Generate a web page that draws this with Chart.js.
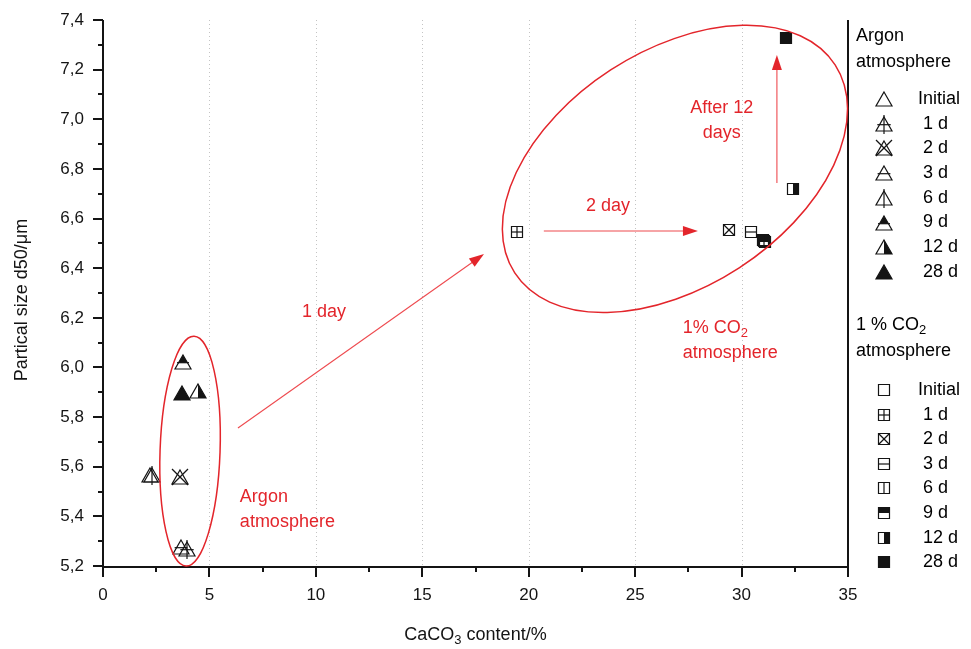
<!DOCTYPE html>
<html><head><meta charset="utf-8">
<script src="https://cdn.jsdelivr.net/npm/chart.js@4"></script>
<style>html,body{margin:0;padding:0;background:#fff;}#wrap{width:971px;height:649px;position:relative;}</style>
</head><body><div id="wrap"><canvas id="c" width="971" height="649"></canvas></div>
<script>
// ---------- data ----------
const seriesLabels = ['Initial', '1 d', '2 d', '3 d', '6 d', '9 d', '12 d', '28 d'];
const argonX = [2.2, 3.95, 3.6, 3.66, 2.28, 3.76, 4.46, 3.71];
const argonY = [5.567, 5.268, 5.559, 5.277, 5.565, 6.02, 5.907, 5.896];
const co2X = [31.0, 19.45, 29.42, 30.44, 31.05, 31.1, 32.41, 32.08];
const co2Y = [6.515, 6.547, 6.553, 6.546, 6.51, 6.506, 6.719, 7.327];
const xTickValues = [0, 5, 10, 15, 20, 25, 30, 35];
const yTickValues = [5.2, 5.4, 5.6, 5.8, 6.0, 6.2, 6.4, 6.6, 6.8, 7.0, 7.2, 7.4];
const xGridValues = [5, 10, 15, 20, 25, 30];
const symbolKinds = ['open', 'plus', 'x', 'hline', 'vline', 'top', 'right', 'full'];

// ---------- styling ----------
const FONT = "'Liberation Sans', Arial, Helvetica, sans-serif";
const RED = '#e3252b';
const INK = '#141414';

function symCanvas(shape, kind, s) {
  const W = 26, cv = document.createElement('canvas');
  cv.width = W; cv.height = W;
  const g = cv.getContext('2d');
  const c = W / 2;
  g.lineWidth = 1.2; g.strokeStyle = INK; g.fillStyle = INK;
  let l, r, top, bot, w, h, path;
  if (shape === 'tri') {
    w = s; h = s - 2;
    l = c - w / 2; r = c + w / 2; top = c - h / 2; bot = c + h / 2;
    path = () => { g.beginPath(); g.moveTo(c, top); g.lineTo(r, bot); g.lineTo(l, bot); g.closePath(); };
  } else {
    w = s; h = s;
    l = c - w / 2; r = c + w / 2; top = c - h / 2; bot = c + h / 2;
    path = () => { g.beginPath(); g.rect(l, top, w, h); };
  }
  const midY = shape === 'tri' ? top + h * 0.55 : c;
  if (kind === 'top' || kind === 'right' || kind === 'full') {
    g.save(); path(); g.clip();
    if (kind === 'top') g.fillRect(l - 2, top - 2, w + 4, midY - top + 2);
    if (kind === 'right') g.fillRect(c, top - 2, w, h + 4);
    if (kind === 'full') g.fillRect(l - 2, top - 2, w + 4, h + 4);
    g.restore();
  }
  const line = (x1, y1, x2, y2) => { g.beginPath(); g.moveTo(x1, y1); g.lineTo(x2, y2); g.stroke(); };
  if (shape === 'tri') {
    if (kind === 'plus') { line(c, top - 2, c, bot + 3); line(c - w * 0.42, midY, c + w * 0.42, midY); }
    if (kind === 'x') { line(l, top - 1, r, bot + 1); line(r, top - 1, l, bot + 1); }
    if (kind === 'hline') line(c - w * 0.4, midY, c + w * 0.4, midY);
    if (kind === 'vline') line(c, top - 2, c, bot + 3);
    if (kind === 'top') line(l + 2, midY, r - 2, midY);
  } else {
    if (kind === 'plus') { line(c, top, c, bot); line(l, c, r, c); }
    if (kind === 'x') { line(l, top, r, bot); line(r, top, l, bot); }
    if (kind === 'hline') line(l, c, r, c);
    if (kind === 'vline') line(c, top, c, bot);
  }
  path(); g.stroke();
  return cv;
}
const triSyms = symbolKinds.map(k => symCanvas('tri', k, 16));
const sqSyms = symbolKinds.map(k => symCanvas('sq', k, 11));

const datasets = [];
seriesLabels.forEach((lab, i) => {
  datasets.push({ label: 'Argon ' + lab, data: [{ x: argonX[i], y: argonY[i] }], pointStyle: triSyms[i], pointRadius: 7 });
});
seriesLabels.forEach((lab, i) => {
  datasets.push({ label: '1% CO2 ' + lab, data: [{ x: co2X[i], y: co2Y[i] }], pointStyle: sqSyms[i], pointRadius: 6 });
});

// annotations (data coordinates)
const ellipses = [
  { cx: 4.09, cy: 5.663, rx: 30, ry: 115, rot: 2 },
  { cx: 26.87, cy: 6.80, rx: 191, ry: 118, rot: -33 }
];
const arrows = [
  { x1: 6.34, y1: 5.756, x2: 17.9, y2: 6.457 },
  { x1: 20.71, y1: 6.55, x2: 27.95, y2: 6.55 },
  { x1: 31.66, y1: 6.743, x2: 31.66, y2: 7.259 }
];
const notes = [
  { x: 10.38, y: 6.224, align: 'center', parts: [['1 day']] },
  { x: 23.72, y: 6.651, align: 'center', parts: [['2 day']] },
  { x: 29.07, y: 7.045, align: 'center', parts: [['After 12']] },
  { x: 29.07, y: 6.945, align: 'center', parts: [['days']] },
  { x: 27.24, y: 6.159, align: 'left', parts: [['1% CO'], ['2', 'sub']] },
  { x: 27.24, y: 6.058, align: 'left', parts: [['atmosphere']] },
  { x: 6.43, y: 5.478, align: 'left', parts: [['Argon']] },
  { x: 6.43, y: 5.378, align: 'left', parts: [['atmosphere']] }
];

function drawRich(ctx, x, y, parts, align, size, color) {
  const main = size + 'px ' + FONT, sub = Math.round(size * 0.7) + 'px ' + FONT;
  let total = 0;
  parts.forEach(p => { ctx.font = p[1] ? sub : main; total += ctx.measureText(p[0]).width; });
  let cx = align === 'center' ? x - total / 2 : (align === 'right' ? x - total : x);
  ctx.textAlign = 'left'; ctx.textBaseline = 'middle'; ctx.fillStyle = color;
  parts.forEach(p => {
    ctx.font = p[1] ? sub : main;
    ctx.fillText(p[0], cx, p[1] ? y + size * 0.32 : y);
    cx += ctx.measureText(p[0]).width;
  });
}

const overlay = {
  id: 'overlay',
  beforeDatasetsDraw(chart) {
    const { ctx, chartArea: a, scales: { x } } = chart;
    ctx.save();
    ctx.strokeStyle = '#c4c4c4'; ctx.lineWidth = 1; ctx.setLineDash([1, 3]);
    xGridValues.forEach(v => {
      const px = Math.round(x.getPixelForValue(v)) + 0.5;
      ctx.beginPath(); ctx.moveTo(px, a.top); ctx.lineTo(px, a.bottom); ctx.stroke();
    });
    ctx.restore();
    ctx.save();
    ctx.imageSmoothingEnabled = false;
  },
  afterDatasetsDraw(chart) {
    chart.ctx.restore();
  },
  afterDraw(chart) {
    const { ctx, chartArea: a, scales: { x, y } } = chart;
    ctx.save();
    // axes
    ctx.strokeStyle = INK; ctx.lineWidth = 2; ctx.setLineDash([]);
    ctx.beginPath();
    ctx.moveTo(a.left, a.top); ctx.lineTo(a.left, a.bottom + 1); ctx.lineTo(a.right, a.bottom + 1); ctx.lineTo(a.right, a.top);
    ctx.stroke();
    // ticks
    ctx.lineWidth = 2;
    for (let v = 0; v <= 35.001; v += 2.5) {
      const px = Math.round(x.getPixelForValue(v));
      const major = Math.abs(v / 5 - Math.round(v / 5)) < 1e-6;
      ctx.beginPath(); ctx.moveTo(px, a.bottom); ctx.lineTo(px, a.bottom + (major ? 11 : 6)); ctx.stroke();
    }
    for (let i = 0; i <= 22; i++) {
      const v = 5.2 + i * 0.1;
      const py = Math.round(y.getPixelForValue(v));
      const major = i % 2 === 0;
      ctx.beginPath(); ctx.moveTo(a.left, py); ctx.lineTo(a.left - (major ? 10 : 5), py); ctx.stroke();
    }
    // ellipses
    ctx.strokeStyle = RED; ctx.lineWidth = 1.5;
    ellipses.forEach(e => {
      ctx.beginPath();
      ctx.ellipse(x.getPixelForValue(e.cx), y.getPixelForValue(e.cy), e.rx, e.ry, e.rot * Math.PI / 180, 0, Math.PI * 2);
      ctx.stroke();
    });
    // arrows
    arrows.forEach(ar => {
      const x1 = x.getPixelForValue(ar.x1), y1 = y.getPixelForValue(ar.y1);
      const x2 = x.getPixelForValue(ar.x2), y2 = y.getPixelForValue(ar.y2);
      const ang = Math.atan2(y2 - y1, x2 - x1), L = 15, W = 5;
      ctx.strokeStyle = '#ee4a4f'; ctx.lineWidth = 1.1;
      ctx.beginPath(); ctx.moveTo(x1, y1);
      ctx.lineTo(x2 - L * 0.8 * Math.cos(ang), y2 - L * 0.8 * Math.sin(ang)); ctx.stroke();
      ctx.fillStyle = RED;
      ctx.beginPath();
      ctx.moveTo(x2, y2);
      ctx.lineTo(x2 - L * Math.cos(ang) + W * Math.sin(ang), y2 - L * Math.sin(ang) - W * Math.cos(ang));
      ctx.lineTo(x2 - L * Math.cos(ang) - W * Math.sin(ang), y2 - L * Math.sin(ang) + W * Math.cos(ang));
      ctx.closePath(); ctx.fill();
    });
    // notes
    notes.forEach(n => drawRich(ctx, x.getPixelForValue(n.x), y.getPixelForValue(n.y), n.parts, n.align, 18, RED));
    // axis titles
    drawRich(ctx, (a.left + a.right) / 2, 635, [['CaCO'], ['3', 'sub'], [' content/%']], 'center', 18, INK);
    ctx.save();
    ctx.translate(22, 300); ctx.rotate(-Math.PI / 2);
    drawRich(ctx, 0, 0, [['Partical size d50/μm']], 'center', 18, INK);
    ctx.restore();
    // legend
    const lx = a.right + 8;
    drawRich(ctx, lx, 36, [['Argon']], 'left', 18, '#000');
    drawRich(ctx, lx, 62, [['atmosphere']], 'left', 18, '#000');
    seriesLabels.forEach((lab, i) => {
      const yy = 99 + i * 24.7;
      const s = triSyms[i];
      ctx.drawImage(s, lx + 28 - s.width / 2, Math.round(yy) - s.height / 2);
      drawRich(ctx, i === 0 ? lx + 62 : lx + 67, yy, [[lab]], 'left', 18, '#000');
    });
    drawRich(ctx, lx, 325, [['1 % CO'], ['2', 'sub']], 'left', 18, '#000');
    drawRich(ctx, lx, 351, [['atmosphere']], 'left', 18, '#000');
    seriesLabels.forEach((lab, i) => {
      const yy = 390 + i * 24.6;
      const s = sqSyms[i];
      ctx.drawImage(s, lx + 28 - s.width / 2, Math.round(yy) - s.height / 2);
      drawRich(ctx, i === 0 ? lx + 62 : lx + 67, yy, [[lab]], 'left', 18, '#000');
    });
    ctx.restore();
  }
};

const tickFont = { family: FONT, size: 17 };
new Chart(document.getElementById('c'), {
  type: 'scatter',
  data: { datasets },
  options: {
    responsive: false,
    animation: false,
    layout: { padding: { left: 0, right: 123, top: 20, bottom: 0 } },
    plugins: { legend: { display: false }, tooltip: { enabled: false } },
    scales: {
      x: {
        type: 'linear', min: 0, max: 35,
        afterBuildTicks: s => { s.ticks = xTickValues.map(v => ({ value: v })); },
        afterFit: s => { s.height = 83; s.paddingLeft = 0; s.paddingRight = 0; },
        grid: { display: false, drawTicks: false },
        border: { display: false },
        ticks: { padding: 19, color: INK, font: tickFont, maxRotation: 0, callback: v => String(v) }
      },
      y: {
        type: 'linear', min: 5.2, max: 7.4,
        afterBuildTicks: s => { s.ticks = yTickValues.map(v => ({ value: v })); },
        afterFit: s => { s.width = 103; s.paddingTop = 0; s.paddingBottom = 0; },
        grid: { display: false, drawTicks: false },
        border: { display: false },
        ticks: { padding: 19, color: INK, font: tickFont, callback: v => Number(v).toFixed(1).replace('.', ',') }
      }
    }
  },
  plugins: [overlay]
});
</script>
</body></html>
